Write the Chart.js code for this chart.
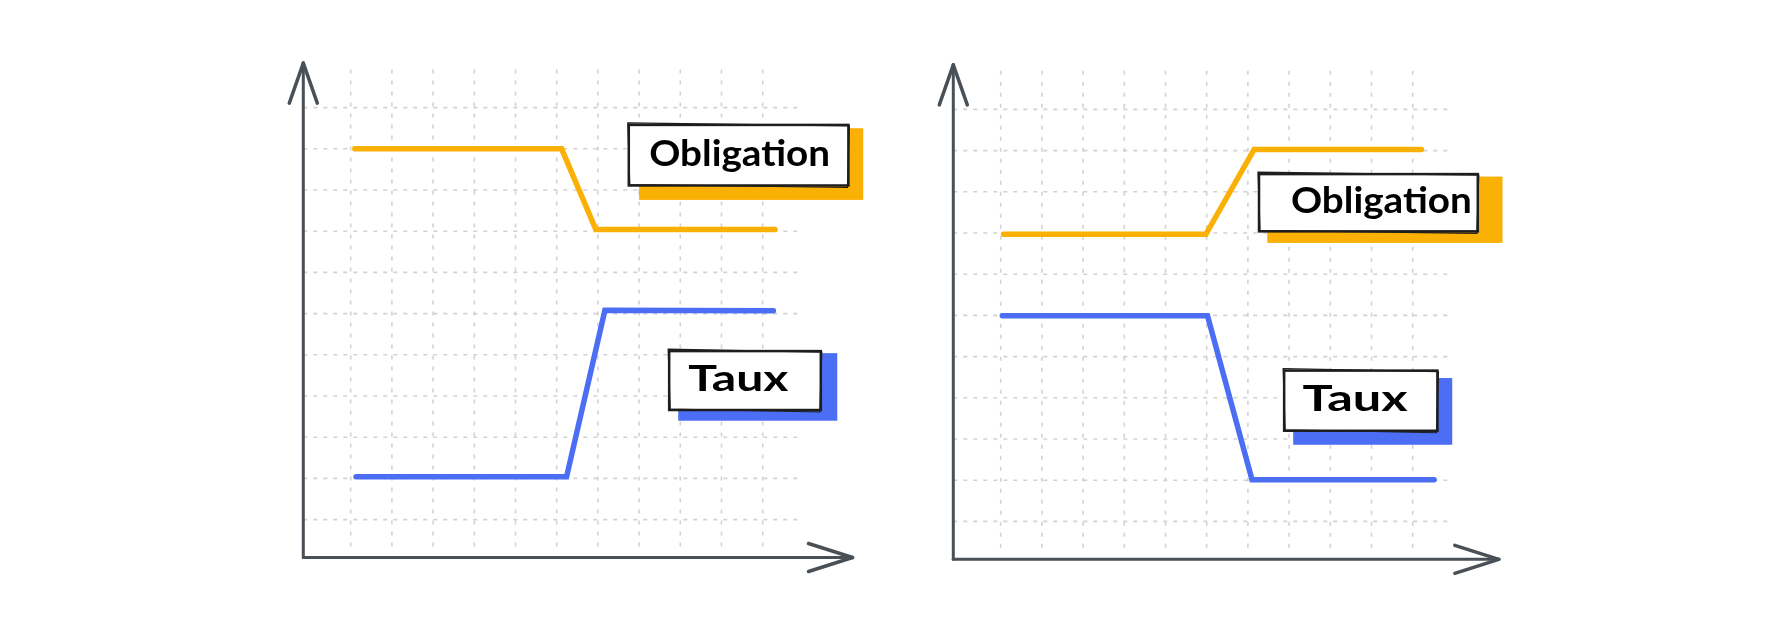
<!DOCTYPE html>
<html>
<head>
<meta charset="utf-8">
<title>Obligation / Taux</title>
<script src="https://cdn.jsdelivr.net/npm/chart.js@4.4.1/dist/chart.umd.min.js"></script>
<style>
  html, body { margin: 0; padding: 0; background: #ffffff; }
  .wrap { position: relative; width: 1784px; height: 618px; overflow: hidden; }
  canvas { position: absolute; top: 0; }
  #left { left: 0; }
  #right { left: 892px; }
</style>
</head>
<body>
<div class="wrap">
  <canvas id="left" width="892" height="618"></canvas>
  <canvas id="right" width="892" height="618"></canvas>
</div>
<script>
// grid positions (in grid units)
const gridCols = [0, 1, 2, 3, 4, 5, 6, 7, 8, 9, 10];
const gridRows = [1, 2, 3, 4, 5, 6, 7, 8, 9, 10, 11];

const seriesNames = ['Obligation', 'Taux'];

// left panel: obligation falls, rate rises
const leftObligationX = [0.10, 5.12, 5.95, 10.30];
const leftObligationY = [10.00, 10.00, 8.04, 8.04];
const leftTauxX = [0.13, 5.24, 6.17, 10.26];
const leftTauxY = [2.04, 2.04, 6.08, 6.07];

// right panel: obligation rises, rate falls
const rightObligationX = [0.07, 4.98, 6.15, 10.21];
const rightObligationY = [7.97, 7.97, 10.03, 10.03];
const rightTauxX = [0.04, 5.02, 6.10, 10.52];
const rightTauxY = [5.99, 5.99, 2.01, 2.01];

const ORANGE = '#fab005';
const BLUE = '#4c6ef5';
const AXIS = '#495057';
const GRID = '#d2d2d2';
const INK = '#1e1e1e';

const X_MIN = -1.15, X_MAX = 12.25;
const Y_MIN = 0.08, Y_MAX = 12.1;

function toPoints(xs, ys) {
    return xs.map((x, i) => ({ x: x, y: ys[i] }));
}

function line(ctx, x0, y0, x1, y1) {
    ctx.beginPath();
    ctx.moveTo(x0, y0);
    ctx.lineTo(x1, y1);
    ctx.stroke();
}

function drawLabel(ctx, sx, sy, lab) {
    const px = (v) => sx.getPixelForValue(v);
    const py = (v) => sy.getPixelForValue(v);
    const unit = px(1) - px(0);

    // offset colour block behind the box
    ctx.fillStyle = lab.color;
    ctx.fillRect(px(lab.shadow[0]), py(lab.shadow[2]),
        px(lab.shadow[1]) - px(lab.shadow[0]), py(lab.shadow[3]) - py(lab.shadow[2]));

    const bx0 = px(lab.box[0]), bx1 = px(lab.box[1]);
    const by0 = py(lab.box[2]), by1 = py(lab.box[3]);
    ctx.fillStyle = '#ffffff';
    ctx.fillRect(bx0, by0, bx1 - bx0, by1 - by0);

    // rough double stroke
    ctx.strokeStyle = INK;
    ctx.lineWidth = 2.5;
    ctx.strokeRect(bx0, by0, bx1 - bx0, by1 - by0);
    ctx.lineWidth = 1.2;
    ctx.beginPath();
    ctx.moveTo(bx0 - 1, by0 - 2);
    ctx.lineTo(bx1 + 1, by0 + 1);
    ctx.lineTo(bx1 - 1, by1 + 2);
    ctx.lineTo(bx0 + 1, by1 - 1);
    ctx.closePath();
    ctx.stroke();

    // text, stretched to the hand-lettered width
    ctx.font = 'bold 36px Lato';
    ctx.fillStyle = '#000000';
    ctx.textBaseline = 'alphabetic';
    const w = ctx.measureText(lab.text).width;
    const target = lab.textWidth * unit;
    ctx.save();
    ctx.translate(px(lab.textX), py(lab.baseline));
    ctx.scale(target / w, 1);
    ctx.fillText(lab.text, -w / 2, 0);
    ctx.restore();
}

const sketchPlugin = {
    id: 'sketch',
    beforeDatasetsDraw(chart, args, opts) {
        const ctx = chart.ctx;
        const sx = chart.scales.x, sy = chart.scales.y;
        const px = (v) => sx.getPixelForValue(v);
        const py = (v) => sy.getPixelForValue(v);

        ctx.save();
        ctx.strokeStyle = GRID;
        ctx.lineWidth = 1.6;
        ctx.setLineDash([4, 6]);
        gridRows.forEach(r => line(ctx, px(X_MIN), py(r), px(opts.gridXEnd), py(r)));
        ctx.setLineDash([4, 7]);
        gridCols.forEach(c => line(ctx, px(c), py(opts.gridYStart), px(c), py(opts.yTip)));
        ctx.setLineDash([]);

        // axes with open arrow heads
        const ox = px(X_MIN), oy = py(Y_MIN);
        const tx = px(opts.xTip), ty = py(opts.yTip);
        ctx.strokeStyle = AXIS;
        ctx.lineWidth = 3;
        ctx.lineCap = 'round';
        line(ctx, ox, oy, ox, ty);
        line(ctx, ox, oy, tx, oy);
        ctx.lineWidth = 3.5;
        line(ctx, ox, ty, ox - 14, ty + 40);
        line(ctx, ox, ty, ox + 14, ty + 40);
        line(ctx, tx, oy, tx - 44, oy - 14);
        line(ctx, tx, oy, tx - 44, oy + 14);
        ctx.restore();
    },
    afterDatasetsDraw(chart, args, opts) {
        const ctx = chart.ctx;
        ctx.save();
        opts.labels.forEach(lab => drawLabel(ctx, chart.scales.x, chart.scales.y, lab));
        ctx.restore();
    }
};

function makeChart(id, obligation, taux, padding, sketch) {
    return new Chart(document.getElementById(id), {
        type: 'line',
        data: {
            datasets: [
                { label: seriesNames[0], data: obligation, borderColor: ORANGE },
                { label: seriesNames[1], data: taux, borderColor: BLUE }
            ]
        },
        options: {
            responsive: false,
            animation: false,
            layout: { padding: padding },
            elements: {
                line: { borderWidth: 5.5, tension: 0, borderCapStyle: 'round', borderJoinStyle: 'miter' },
                point: { radius: 0, hoverRadius: 0 }
            },
            plugins: {
                legend: { display: false },
                tooltip: { enabled: false },
                sketch: sketch
            },
            scales: {
                x: { type: 'linear', min: X_MIN, max: X_MAX, display: false },
                y: { type: 'linear', min: Y_MIN, max: Y_MAX, display: false }
            }
        },
        plugins: [sketchPlugin]
    });
}

makeChart('left',
    toPoints(leftObligationX, leftObligationY),
    toPoints(leftTauxX, leftTauxY),
    { left: 303.3, right: 36.6, top: 62.3, bottom: 60.5 },
    {
        xTip: 12.18, yTip: 12.08, gridXEnd: 10.95, gridYStart: 0.35,
        labels: [
            { text: seriesNames[0], color: ORANGE, box: [6.75, 12.08, 10.58, 9.11],
              shadow: [7.0, 12.44, 10.5, 8.76], textX: 9.44, baseline: 9.585, textWidth: 4.39 },
            { text: seriesNames[1], color: BLUE, box: [7.73, 11.41, 5.09, 3.66],
              shadow: [7.95, 11.81, 5.04, 3.40], textX: 9.41, baseline: 4.13, textWidth: 2.43 }
        ]
    });

makeChart('right',
    toPoints(rightObligationX, rightObligationY),
    toPoints(rightTauxX, rightTauxY),
    { left: 61.3, right: 278.6, top: 64.1, bottom: 58.7 },
    {
        xTip: 12.09, yTip: 12.08, gridXEnd: 10.96, gridYStart: 0.36,
        labels: [
            { text: seriesNames[0], color: ORANGE, box: [6.27, 11.58, 9.43, 8.04],
              shadow: [6.47, 12.18, 9.37, 7.76], textX: 9.24, baseline: 8.485, textWidth: 4.39 },
            { text: seriesNames[1], color: BLUE, box: [6.88, 10.60, 4.66, 3.20],
              shadow: [7.10, 10.96, 4.48, 2.86], textX: 8.60, baseline: 3.67, textWidth: 2.55 }
        ]
    });
</script>
</body>
</html>
